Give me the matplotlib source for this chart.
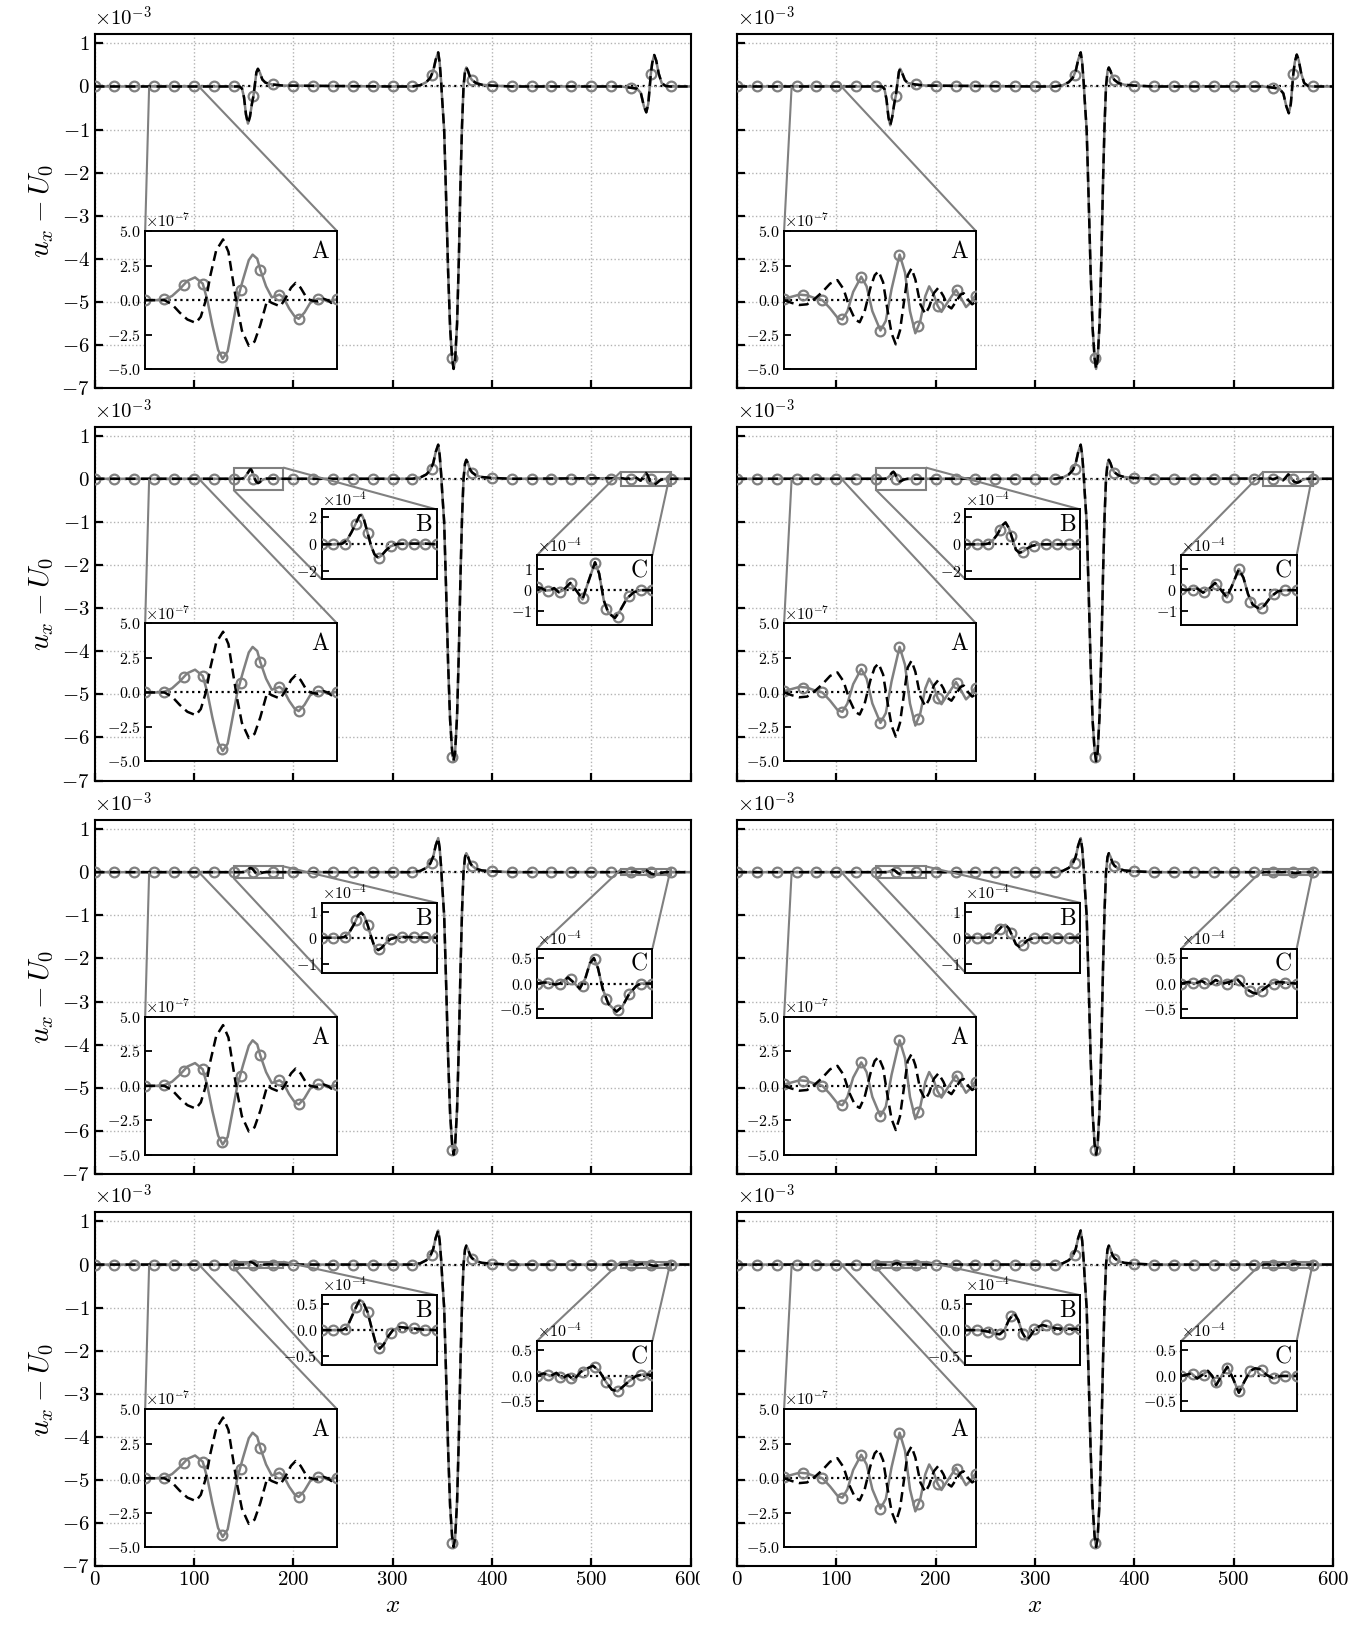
import numpy as np
import matplotlib
matplotlib.use("Agg")
import matplotlib.pyplot as plt
from matplotlib.patches import Rectangle
from matplotlib.ticker import FuncFormatter, ScalarFormatter
from mpl_toolkits.axes_grid1.inset_locator import mark_inset

plt.rcParams.update({
    "font.family": "serif",
    "font.serif": ["cmr10"],
    "mathtext.fontset": "cm",
    "axes.formatter.use_mathtext": True,
})

# ---------------- data ----------------
# marker positions (numerical grid points shown)
MAIN_MX = [0, 20, 40, 60, 80, 100, 120, 140, 160, 180, 200, 220, 240, 260, 280,
           300, 320, 340, 360, 380, 400, 420, 440, 460, 480, 500, 520, 540, 560, 580]
A_MX = [55, 60, 65, 70, 75, 80, 85, 90, 95, 100, 105]
B_MX = [140, 145, 150, 155, 160, 165, 170, 175, 180, 185, 190]
C_MX = [530, 535, 540, 545, 550, 555, 560, 565, 570, 575, 580]

# main markers, x1e-3
MAIN_MY_ROW1 = [0, 0, 0, 0, 0, 0, 0, 0, -0.22, 0.05, 0, 0, 0, 0, 0,
                0, 0, 0.27, -6.3, 0.15, 0.02, 0, 0, 0, 0, 0, 0, -0.04, 0.28, 0]
MAIN_MY_LOWER = [0, 0, 0, 0, 0, 0, 0, 0, 0, 0, 0, 0, 0, 0, 0,
                 0, 0, 0.22, -6.45, 0.14, 0.02, 0, 0, 0, 0, 0, 0, 0, 0, 0]

# central pulse, x1e-3 (same in all panels)
DIP_X = [300, 320, 328, 334, 338, 341, 343.5, 346, 347.5, 349, 350, 352, 354, 356, 358,
         360, 361.5, 363, 365, 366.8, 368.5, 370, 371.5, 373, 374.3, 376, 378, 380,
         384, 390, 400, 420]
DIP_Y = [0, 0, 0.03, 0.1, 0.2, 0.36, 0.62, 0.79, 0.55, 0.1, -0.3, -1.0, -2.6, -4.3, -5.6,
         -6.3, -6.55, -6.35, -5.5, -4.0, -2.2, -0.9, 0.0, 0.35, 0.44, 0.36, 0.22, 0.15,
         0.08, 0.04, 0.02, 0]

# inset A, x1e-7 -- left column
A_ANA_X_L = [55, 60, 62, 64, 66, 68.2, 69.5, 70.8, 72, 73.5, 75.3, 76.7, 78, 79, 80.2,
             82, 83.5, 85, 86.8, 88, 90.2, 91.5, 93, 94.2, 95.5, 97, 98, 100, 101.5,
             102.5, 103.5, 105]
A_ANA_Y_L = [0, 0, -0.3, -0.9, -1.4, -1.65, -1.2, 0, 1.8, 3.6, 4.4, 3.5, 1.2, -0.5, -2.2,
             -3.3, -3.0, -1.8, 0, -0.2, -0.45, 0.1, 0.9, 1.25, 0.9, 0.2, 0, -0.1, 0.1,
             0, -0.2, 0]
A_NUM_X_L = [55, 58, 60, 62, 64, 66, 68, 70, 71.2, 72.5, 74, 75.2, 76.5, 78, 79, 80.5,
             82, 83, 84.2, 85, 86.5, 88, 89, 90, 91, 92.5, 94, 95, 96.5, 98, 100, 101.5,
             102.5, 104, 105]
A_NUM_Y_L = [0, 0, 0.05, 0.3, 0.8, 1.4, 1.65, 1.2, 0, -1.8, -3.6, -4.25, -3.7, -1.5, 0, 1.5,
             2.9, 3.3, 3.0, 2.2, 1.0, 0.2, 0.3, 0.4, 0.2, -0.6, -1.2, -1.35, -0.9, -0.2, 0.1,
             0.05, -0.1, 0, 0.05]
A_MY_L = [0, 0.05, 1.1, 1.2, -4.1, 0.7, 2.2, 0.4, -1.35, 0.1, 0.05]

# inset A, x1e-7 -- right column
A_ANA_X_R = [55, 57, 59, 61, 63, 65, 67, 68.9, 70.5, 72, 73.5, 74.7, 76, 77.5, 78.6, 79.6,
             80.8, 82, 83, 84.1, 85.2, 86.3, 87.2, 88.2, 89.2, 90.5, 91.8, 92.8, 94, 95.2,
             96.5, 97.6, 98.6, 99.8, 101, 101.8, 103, 104, 105]
A_ANA_Y_R = [0, -0.2, -0.35, -0.3, 0.1, 0.6, 1.2, 1.45, 0.8, -0.5, -1.4, -1.6, -0.8, 0.9,
             1.8, 2.1, 1.3, -0.8, -2.4, -3.2, -2.2, 0, 1.8, 2.3, 1.5, -0.3, -1.0, -0.5,
             0.5, 0.9, 0.3, -0.4, -0.6, -0.1, 0.4, 0.5, 0, -0.3, -0.1]
A_NUM_X_R = [55, 57, 59, 61, 63, 65, 67, 69, 70.2, 71.5, 73, 75.1, 76.5, 78, 80.1, 81.5,
             83, 85.1, 86.5, 87.8, 89.2, 90.5, 91.8, 92.8, 94, 95, 96, 97.5, 99.8, 101,
             102.4, 103.5, 105]
A_NUM_Y_R = [0.1, 0.25, 0.4, 0.35, 0.15, 0, -0.6, -1.3, -1.4, -0.8, 0.6, 1.7, 1.0, -0.8,
             -2.2, -1.5, 0.8, 3.3, 2.0, -0.8, -2.4, -1.5, 0.3, 1.0, 0.4, -0.4, -0.85, -0.2,
             0.75, 0.2, -0.5, -0.2, 0.4]
A_MY_R = [0.1, 0.35, 0.0, -1.4, 1.7, -2.2, 3.3, -1.9, -0.4, 0.7, 0.3]

# pulse near x=160 (insets B), x1e-4
B1L_X = [140, 146, 148.5, 150.5, 152.5, 154.5, 156.5, 158.5, 160, 161.5, 163, 164.5, 166.5,
         169, 172, 176, 180, 190]
B1L_Y = [0, 0, -0.5, -2.5, -6.5, -8.6, -7.0, -4.0, -2.2, 0.5, 3.3, 4.1, 3.2, 1.6, 0.9, 0.6,
         0.45, 0.2]
B1R_X = [140, 146, 148.5, 150.5, 152.5, 154.3, 156.3, 158.3, 160, 161.5, 163, 164.3, 166.3,
         169, 172, 180, 190]
B1R_Y = [0, 0, -0.6, -3.0, -7.2, -9.0, -7.0, -4.0, -2.0, 0.8, 3.4, 4.1, 3.1, 1.5, 0.8, 0.45,
         0.2]
B2L_X = [140, 146, 149, 151, 153, 155, 156.5, 157.5, 158.5, 160, 161.5, 163, 164.6, 166,
         168, 170, 173, 178, 185, 190]
B2L_Y = [0, 0, 0.05, 0.3, 0.9, 1.6, 2.15, 2.2, 1.8, 0.85, -0.1, -0.75, -1.0, -0.85, -0.45,
         -0.15, 0.03, 0.05, 0.05, 0]
B2L_MY = [0, 0, 0, 1.5, 0.85, -1.0, -0.15, 0.05, 0.05, 0.05, 0]
B2R_X = [140, 148, 150, 152, 154, 156, 157.5, 159, 160.5, 162, 163.5, 165, 167, 169, 172, 190]
B2R_Y = [0, 0, 0.05, 0.3, 0.75, 1.4, 1.63, 1.2, 0.4, -0.4, -0.63, -0.55, -0.3, -0.12, 0, 0]
B2R_MY = [0, 0, 0.05, 1.05, 0.65, -0.55, -0.1, 0, 0, 0, 0]
B3L_X = [140, 148, 150, 152, 154, 156, 157.2, 158.5, 160, 161.5, 163, 164.6, 166, 168, 170,
         173, 180, 190]
B3L_Y = [0, 0, 0.03, 0.2, 0.5, 0.88, 0.97, 0.85, 0.5, 0.05, -0.35, -0.48, -0.4, -0.2, -0.05,
         0.03, 0.02, 0]
B3L_MY = [0, 0, 0.03, 0.7, 0.5, -0.45, -0.05, 0.03, 0.02, 0.02, 0]
B3R_X = [140, 150, 152, 154, 156, 157.5, 159, 160.5, 162, 163.5, 165, 167, 170, 190]
B3R_Y = [0, 0, 0.08, 0.25, 0.45, 0.5, 0.35, 0.05, -0.25, -0.35, -0.28, -0.1, 0, 0]
B3R_MY = [0, 0, 0, 0.35, 0.17, -0.28, 0, 0, 0, 0, 0]
B4L_X = [140, 149, 151, 153, 155, 156.6, 158, 160, 162, 163.5, 165.3, 167, 169, 171, 174,
         178, 184, 190]
B4L_Y = [0, 0, 0.05, 0.25, 0.45, 0.59, 0.55, 0.35, 0, -0.25, -0.36, -0.28, -0.12, 0, 0.06,
         0.04, 0.01, 0]
B4L_MY = [0, 0, 0.02, 0.45, 0.35, -0.34, -0.06, 0.06, 0.04, 0.01, 0]
B4R_X = [140, 146, 150, 152.5, 155, 157, 159, 161.2, 163, 164.8, 166.8, 168.5, 170.5, 173.5,
         176, 180, 190]
B4R_Y = [0, 0, -0.03, -0.07, -0.08, 0, 0.2, 0.33, 0.2, -0.05, -0.2, -0.1, 0.04, 0.1, 0.07,
         0.03, 0.02]
B4R_MY = [0, 0, -0.03, -0.08, 0.28, -0.07, 0.02, 0.09, 0.03, 0.03, 0.02]

# pulse near x=560 (insets C), x1e-4
C1L_X = [530, 540, 546, 550, 553, 555.5, 557.5, 559, 560, 561.5, 563.5, 565.5, 568, 571,
         575, 580]
C1L_Y = [0, -0.3, -0.5, -1.5, -4.5, -6.0, -4.0, 0, 2.8, 5.5, 7.3, 6.0, 3.0, 0.8, 0.1, 0]
C1R_X = [530, 540, 546, 550, 553, 555.5, 557.5, 559, 560, 561.5, 563.5, 565.5, 568, 571,
         575, 580]
C1R_Y = [0, -0.3, -0.5, -1.6, -4.6, -6.2, -4.1, 0, 2.8, 5.6, 7.4, 6.1, 3.0, 0.8, 0.1, 0]
C2L_X = [530, 532, 534, 536, 537.5, 539.5, 541.5, 544.5, 547, 549.8, 552, 555.2, 557, 559,
         561, 563.8, 566, 569, 572, 575, 580]
C2L_Y = [0.15, 0.1, -0.02, 0, 0.1, -0.1, 0, 0.35, 0, -0.45, 0.3, 1.35, 0.8, -0.5, -1.1,
         -1.35, -1.0, -0.4, -0.1, 0, 0]
C2L_MY = [0.15, -0.02, -0.08, 0.33, -0.4, 1.3, -0.9, -1.3, -0.3, 0, 0]
C2R_X = [530, 532, 534.5, 537, 539.5, 542, 544.7, 547, 549.8, 552, 555, 557, 559, 561, 564,
         566, 569, 572, 575, 580]
C2R_Y = [0.05, 0, 0.05, 0.08, -0.12, 0.05, 0.35, 0.05, -0.35, 0.2, 1.02, 0.6, -0.2, -0.7,
         -0.92, -0.75, -0.3, -0.05, 0, 0]
C2R_MY = [0.05, 0.03, -0.1, 0.3, -0.33, 1.0, -0.55, -0.85, -0.2, 0, 0]
C3L_X = [530, 533, 535, 538, 540, 543.5, 546, 548.6, 551, 553, 554.7, 556.5, 558.5, 561,
         564.5, 567, 570, 573, 575, 580]
C3L_Y = [0, 0.02, 0.02, -0.02, 0, 0.12, 0.02, -0.1, 0.1, 0.4, 0.5, 0.3, -0.1, -0.4, -0.55,
         -0.45, -0.2, -0.05, 0, 0]
C3L_MY = [0, 0.02, 0, 0.08, -0.05, 0.48, -0.3, -0.52, -0.2, 0, 0]
C3R_X = [530, 533, 536, 539, 542, 545, 548, 551, 554, 556, 558, 561, 563, 566, 569, 572,
         575, 580]
C3R_Y = [0, 0.03, 0, 0.05, -0.03, 0.07, 0, 0.03, 0.1, 0, -0.1, -0.18, -0.2, -0.1, 0, 0.03,
         0.02, 0]
C3R_MY = [0, 0.01, 0.02, 0.06, 0.0, 0.06, -0.15, -0.15, 0, 0.02, 0]
C4L_X = [530, 533, 536, 538.5, 541, 543.5, 546, 549, 552, 554.3, 557, 560, 562.5, 565,
         567.5, 570, 573, 576, 580]
C4L_Y = [0, 0.05, 0, 0.06, -0.05, 0.02, -0.08, 0.08, 0.15, 0.2, 0.1, -0.12, -0.27, -0.3,
         -0.2, -0.1, 0, 0.03, 0.02]
C4L_MY = [0, 0.02, -0.02, -0.05, 0.08, 0.18, -0.12, -0.3, -0.1, 0.02, 0.02]
C4R_X = [530, 532, 534.5, 537, 539.5, 541.6, 543.5, 545.2, 547.5, 550, 552.5, 555, 557.5,
         560, 562, 564.5, 567, 570, 573, 580]
C4R_Y = [0, 0.02, 0.05, -0.05, 0.03, 0.1, 0, -0.18, 0, 0.18, -0.05, -0.33, -0.1, 0.1, 0.15,
         0.13, 0.02, -0.05, 0, 0]
C4R_MY = [0, 0.04, 0.02, -0.12, 0.15, -0.3, 0.1, 0.12, -0.05, 0, 0]

# per row: (B_x, B_y, B_markers, C_x, C_y, C_markers) for left / right column
ROWS_L = [(B1L_X, B1L_Y, None, C1L_X, C1L_Y, None),
          (B2L_X, B2L_Y, B2L_MY, C2L_X, C2L_Y, C2L_MY),
          (B3L_X, B3L_Y, B3L_MY, C3L_X, C3L_Y, C3L_MY),
          (B4L_X, B4L_Y, B4L_MY, C4L_X, C4L_Y, C4L_MY)]
ROWS_R = [(B1R_X, B1R_Y, None, C1R_X, C1R_Y, None),
          (B2R_X, B2R_Y, B2R_MY, C2R_X, C2R_Y, C2R_MY),
          (B3R_X, B3R_Y, B3R_MY, C3R_X, C3R_Y, C3R_MY),
          (B4R_X, B4R_Y, B4R_MY, C4R_X, C4R_Y, C4R_MY)]
B_LIMS = [None, 2.6, 1.35, 0.68]
C_LIMS = [None, 1.68, 0.68, 0.68]
B_TICKS = [None, [-2, 0, 2], [-1, 0, 1], [-0.5, 0, 0.5]]
C_TICKS = [None, [-1, 0, 1], [-0.5, 0, 0.5], [-0.5, 0, 0.5]]

GRAY = "#808080"

# ---------------- figure ----------------
fig = plt.figure(figsize=(13.67, 16.28), dpi=100)
W, H = 1367, 1628
col_left = [94.5, 737]
row_top = [34.3, 426.6, 820.0, 1212.4]
ax_w, ax_h = 596, 354


def draw_curves(ax, x, y, mx, my, ms=7):
    ax.axhline(0, color="k", ls=":", lw=1.6, zorder=1)
    ax.plot(x, y, color=GRAY, lw=1.8, zorder=2)
    ax.plot(mx, my, ls="none", marker="o", ms=ms, mfc="none", mec=GRAY, mew=1.6, zorder=3)
    ax.plot(x, y, color="k", ls="--", lw=1.8, dashes=(4, 2.2), zorder=4)


def style_inset(axi, lims, ticks, expo, label):
    scale = 10.0 ** expo
    axi.set_ylim(-lims * scale, lims * scale)
    axi.set_yticks([t * scale for t in ticks])
    fmt = ScalarFormatter(useMathText=True)
    fmt.set_powerlimits((expo, expo))
    axi.yaxis.set_major_formatter(fmt)
    axi.set_xticks([])
    axi.tick_params(axis="y", direction="in", length=5, width=1.3, labelsize=11.5, pad=3)
    axi.yaxis.get_offset_text().set_fontsize(11.5)
    for s in axi.spines.values():
        s.set_linewidth(1.4)
    axi.text(0.96, 0.93, label, transform=axi.transAxes, ha="right", va="top", fontsize=17)


for c in range(2):
    rows = ROWS_L if c == 0 else ROWS_R
    a_ana_x, a_ana_y = (A_ANA_X_L, A_ANA_Y_L) if c == 0 else (A_ANA_X_R, A_ANA_Y_R)
    a_num_x, a_num_y = (A_NUM_X_L, A_NUM_Y_L) if c == 0 else (A_NUM_X_R, A_NUM_Y_R)
    a_my = A_MY_L if c == 0 else A_MY_R
    for r in range(4):
        bx, by, bmy, cx, cy, cmy = rows[r]
        rect = [col_left[c] / W, 1 - (row_top[r] + ax_h) / H, ax_w / W, ax_h / H]
        ax = fig.add_axes(rect)

        # main curve assembled from the three pulses (mixed units -> SI)
        main_x = [0] + list(bx) + list(DIP_X) + list(cx) + [600]
        main_y = ([0] + [v * 1e-4 for v in by] + [v * 1e-3 for v in DIP_Y]
                  + [v * 1e-4 for v in cy] + [0])
        mmy = MAIN_MY_ROW1 if r == 0 else MAIN_MY_LOWER
        draw_curves(ax, main_x, main_y, MAIN_MX, [v * 1e-3 for v in mmy])

        ax.set_xlim(0, 600)
        ax.set_ylim(-7e-3, 1.21e-3)
        ax.set_xticks([0, 100, 200, 300, 400, 500, 600])
        ax.set_yticks([v * 1e-3 for v in range(-7, 2)])
        ax.yaxis.set_major_formatter(FuncFormatter(lambda v, p: "$%d$" % round(v * 1e3)))
        ax.grid(True, ls=":", color="0.7", lw=1.0)
        ax.tick_params(direction="in", length=6, width=1.6, labelsize=15)
        for s in ax.spines.values():
            s.set_linewidth(1.5)
        ax.text(0.0, 1.012, r"$\times10^{-3}$", transform=ax.transAxes, fontsize=15,
                ha="left", va="bottom")
        if c == 1:
            ax.tick_params(labelleft=False)
        else:
            ax.set_ylabel(r"$u_x - U_0$", fontsize=21, labelpad=4)
        if r < 3:
            ax.tick_params(labelbottom=False)
        else:
            ax.set_xlabel(r"$x$", fontsize=18, labelpad=4)

        # inset A
        a_x0 = 0.085 if c == 0 else 0.079
        axa = ax.inset_axes([a_x0, 0.054, 0.322, 0.39])
        axa.axhline(0, color="k", ls=":", lw=1.6, zorder=1)
        axa.plot(a_num_x, [v * 1e-7 for v in a_num_y], color=GRAY, lw=1.8, zorder=2)
        axa.plot(A_MX, [v * 1e-7 for v in a_my], ls="none", marker="o", ms=7, mfc="none",
                 mec=GRAY, mew=1.6, zorder=3)
        axa.plot(a_ana_x, [v * 1e-7 for v in a_ana_y], color="k", ls="--", lw=1.8,
                 dashes=(4, 2.2), zorder=4)
        axa.set_xlim(55, 105)
        style_inset(axa, 5.0, [-5, -2.5, 0, 2.5, 5], -7, "A")
        mark_inset(ax, axa, loc1=2, loc2=1, fc="none", ec=GRAY, lw=1.5)

        if r == 0:
            continue

        bxo = 0.381 if c == 0 else 0.383
        cxo = 0.742 if c == 0 else 0.745
        # inset B
        axb = ax.inset_axes([bxo, 0.569, 0.193, 0.197])
        draw_curves(axb, bx, [v * 1e-4 for v in by], B_MX, [v * 1e-4 for v in bmy])
        axb.set_xlim(140, 190)
        style_inset(axb, B_LIMS[r], B_TICKS[r], -4, "B")
        mark_inset(ax, axb, loc1=1, loc2=3, fc="none", ec=GRAY, lw=1.5)

        # inset C
        axc = ax.inset_axes([cxo, 0.44, 0.194, 0.196])
        draw_curves(axc, cx, [v * 1e-4 for v in cy], C_MX, [v * 1e-4 for v in cmy])
        axc.set_xlim(530, 580)
        style_inset(axc, C_LIMS[r], C_TICKS[r], -4, "C")
        mark_inset(ax, axc, loc1=2, loc2=1, fc="none", ec=GRAY, lw=1.5)

# the right panel column hides the end of the left "600" label
fig.patches.append(Rectangle((700 / W, 1 - 1600 / H), 27 / W, 35 / H, transform=fig.transFigure,
                             facecolor="white", edgecolor="none", zorder=10))

fig.savefig("out.png", dpi=100)
